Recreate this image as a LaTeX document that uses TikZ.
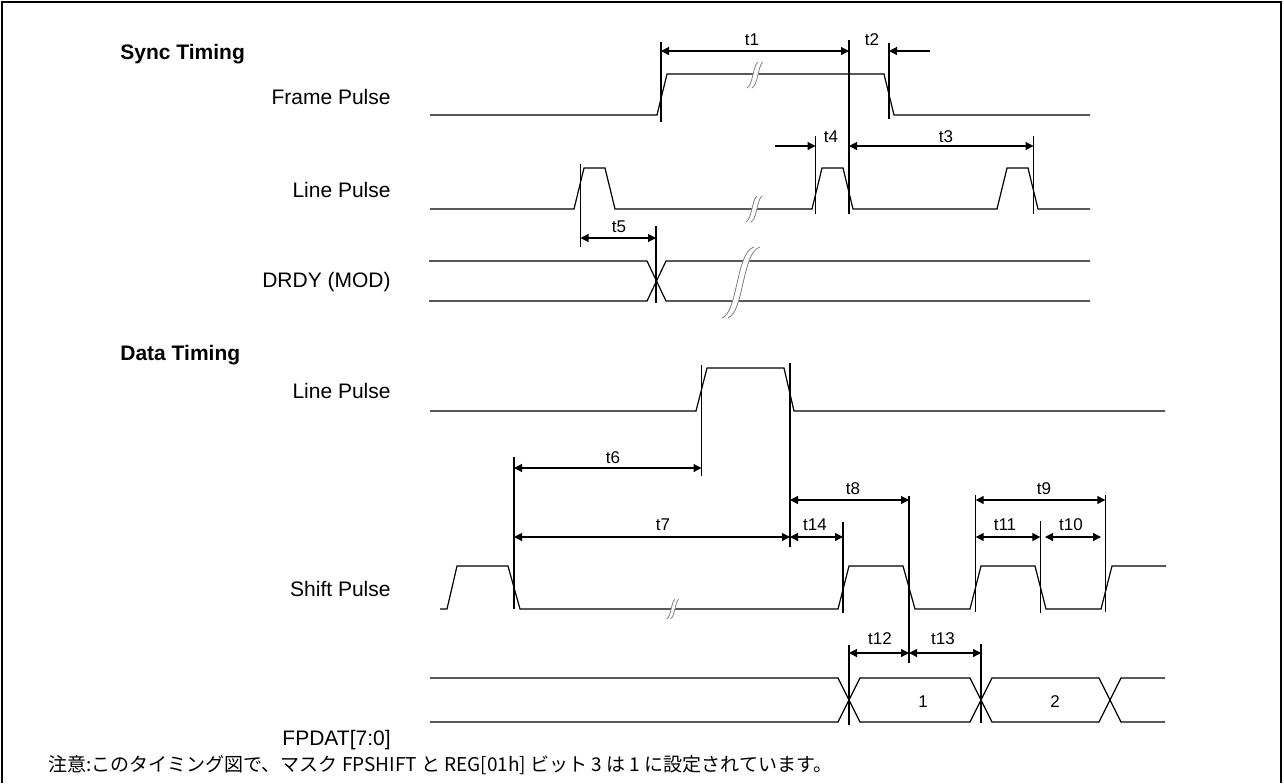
\documentclass[tikz,border=0pt]{standalone}
\usepackage{fontspec}
\setmainfont{Liberation Sans}
\newfontfamily\jp{Noto Sans CJK JP}
\usetikzlibrary{arrows.meta}
\begin{document}
\begin{tikzpicture}[x=0.5pt,y=-0.5pt,
  sig/.style={line width=0.6pt,line join=miter},
  vmark/.style={line width=0.6pt},
  dim/.style={line width=0.6pt,{Triangle[length=4pt,width=4pt]}-{Triangle[length=4pt,width=4pt]}},
  dimr/.style={line width=0.6pt,-{Triangle[length=4pt,width=4pt]}},
  tlab/.style={inner sep=0pt,font=\fontsize{8.5}{10}\selectfont},
  lab/.style={inner sep=0pt,anchor=east,font=\fontsize{10.5}{12}\selectfont},
  head/.style={inner sep=0pt,anchor=west,font=\fontsize{10.5}{12}\selectfont\bfseries},
  brkline/.style={gray,line width=0.4pt},
  brkmark/.pic={
    \path[fill=white] (-7,13) .. controls (-1,10) and (-1,-10) .. (4,-13) -- (9,-13) .. controls (4,-10) and (4,10) .. (-2,13) -- cycle;
    \draw[brkline] (-7,13) .. controls (-1,10) and (-1,-10) .. (4,-13);
    \draw[brkline] (-2,13) .. controls (4,10) and (4,-10) .. (9,-13);
  }]
\useasboundingbox (0,0) rectangle (1284,783);
% frame
\draw[line width=0.8pt] (2,783) -- (2,2) -- (1281,2) -- (1281,783);

% headings and labels
\node[head] (hsync) at (120,54) {Sync Timing};
\node[lab] (lframe) at (391,97) {Frame Pulse};
\node[lab] (lline) at (391,190) {Line Pulse};
\node[lab] (ldrdy) at (391,282) {DRDY (MOD)};
\node[head] (hdata) at (120,355) {Data Timing};
\node[lab] (lline2) at (391,391) {Line Pulse};
\node[lab] (lshift) at (391,589) {Shift Pulse};
\node[lab] (lfpdat) at (391,740) {FPDAT[7:0]};

% ---------- Sync timing ----------
% Frame pulse
\draw[sig] (430,115) -- (657,115) -- (667,74) -- (884,74) -- (894,115) -- (1090,115);
\pic at (754,75) {brkmark};
% Line pulse
\draw[sig] (430,209) -- (574,209) -- (584,168) -- (605,168) -- (615,209) -- (812,209) -- (822,168) -- (843,168) -- (853,209) -- (997,209) -- (1007,168) -- (1028,168) -- (1038,209) -- (1090,209);
\pic at (753,209) {brkmark};
% DRDY
\draw[sig] (429,261) -- (647,261) -- (666,301) -- (1090,301);
\draw[sig] (429,301) -- (647,301) -- (666,261) -- (1090,261);
\path[fill=white] (722,318) .. controls (738,312) and (736,252) .. (754,247) -- (760,247) .. controls (742,252) and (744,312) .. (728,318) -- cycle;
\draw[brkline] (722,318) .. controls (738,312) and (736,252) .. (754,247);
\draw[brkline] (728,318) .. controls (744,312) and (742,252) .. (760,247);

% markers
\coordinate (a1t) at (661,42);  \coordinate (a1b) at (661,122);
\coordinate (a2t) at (849,40);  \coordinate (a2b) at (849,214);
\coordinate (a3t) at (889,43);  \coordinate (a3b) at (889,119);
\coordinate (b1t) at (580.5,164); \coordinate (b1b) at (580.5,247);
\coordinate (b2t) at (815.5,136); \coordinate (b2b) at (815.5,214);
\coordinate (b3t) at (1033.5,136); \coordinate (b3b) at (1033.5,214);
\coordinate (c1t) at (656,226); \coordinate (c1b) at (656,303);
\foreach \p in {a1,a2,a3,b1,b2,b3,c1} \draw[vmark] (\p t) -- (\p b);

% dimensions sync
\draw[dim] (661,51) -- (849,51);
\node[tlab] (t1) at (752,40) {t1};
\node[tlab] (t2) at (872,40) {t2};
\coordinate (t2s) at (930,51);
\draw[dimr] (t2s) -- (889,51);
\coordinate (t4s) at (775,146);
\draw[dimr] (t4s) -- (815.5,146);
\node[tlab] (t4) at (831,137) {t4};
\draw[dim] (849,146) -- (1033.5,146);
\node[tlab] (t3) at (946,137) {t3};
\draw[dim] (580.5,238) -- (656,238);
\node[tlab] (t5) at (619,227) {t5};

% ---------- Data timing ----------
\draw[sig] (430,411) -- (696,411) -- (707,368) -- (784,368) -- (794,411) -- (1165,411);
% Shift pulse
\draw[sig] (440,609) -- (447,609) -- (457,566) -- (508,566) -- (520,609) -- (838,609) -- (849,566) -- (903,566) -- (915,609) -- (970,609) -- (981,566) -- (1035,566) -- (1046,609) -- (1101,609) -- (1112,566) -- (1166,566);
\pic[scale=0.75] at (672,609) {brkmark};
% FPDAT
\draw[sig] (430,678) -- (838,678) -- (860,722) -- (970,722) -- (992,678) -- (1099,678) -- (1121,722) -- (1165,722);
\draw[sig] (430,722) -- (838,722) -- (860,678) -- (970,678) -- (992,722) -- (1099,722) -- (1121,678) -- (1165,678);
\node[tlab] (d1) at (923,702) {1};
\node[tlab] (d2) at (1055,702) {2};

% markers data
\coordinate (m1t) at (701.5,365); \coordinate (m1b) at (701.5,476);
\coordinate (m2t) at (790,363);   \coordinate (m2b) at (790,547);
\coordinate (m3t) at (514,457);   \coordinate (m3b) at (514,609);
\coordinate (m4t) at (843,522);   \coordinate (m4b) at (843,613);
\coordinate (m5t) at (909,496);   \coordinate (m5b) at (909,663);
\coordinate (m6t) at (975.7,495); \coordinate (m6b) at (975.7,612);
\coordinate (m7t) at (1040.3,521); \coordinate (m7b) at (1040.3,613);
\coordinate (m8t) at (1105.3,495); \coordinate (m8b) at (1105.3,612);
\coordinate (m9t) at (849,645);   \coordinate (m9b) at (849,725);
\coordinate (m10t) at (981,644);  \coordinate (m10b) at (981,723);
\foreach \p in {m1,m2,m3,m4,m5,m6,m7,m8,m9,m10} \draw[vmark] (\p t) -- (\p b);

\draw[dim] (514,468) -- (701.5,468);
\node[tlab] (t6) at (613,458) {t6};
\draw[dim] (514,537) -- (790,537);
\node[tlab] (t7) at (663,525) {t7};
\draw[dim] (790,500) -- (909,500);
\node[tlab] (t8) at (853,489) {t8};
\draw[dim] (790,537) -- (843,537);
\node[tlab] (t14) at (815,525) {t14};
\draw[dim] (975.7,500) -- (1105.3,500);
\node[tlab] (t9) at (1044,489) {t9};
\draw[dim] (975.7,537) -- (1040.3,537);
\node[tlab] (t11) at (1005,525) {t11};
\draw[dim] (1045,537) -- (1101,537);
\node[tlab] (t10) at (1071,525) {t10};
\draw[dim] (849,653) -- (909,653);
\node[tlab] (t12) at (880,639) {t12};
\draw[dim] (909,653) -- (981,653);
\node[tlab] (t13) at (943,639) {t13};

% note
\node[inner sep=0pt,anchor=west,font=\fontsize{9.5}{11}\selectfont\jp] (note) at (48,765) {注意:このタイミング図で、マスク FPSHIFT と REG[01h] ビット 3 は 1 に設定されています。};
\end{tikzpicture}
\end{document}
